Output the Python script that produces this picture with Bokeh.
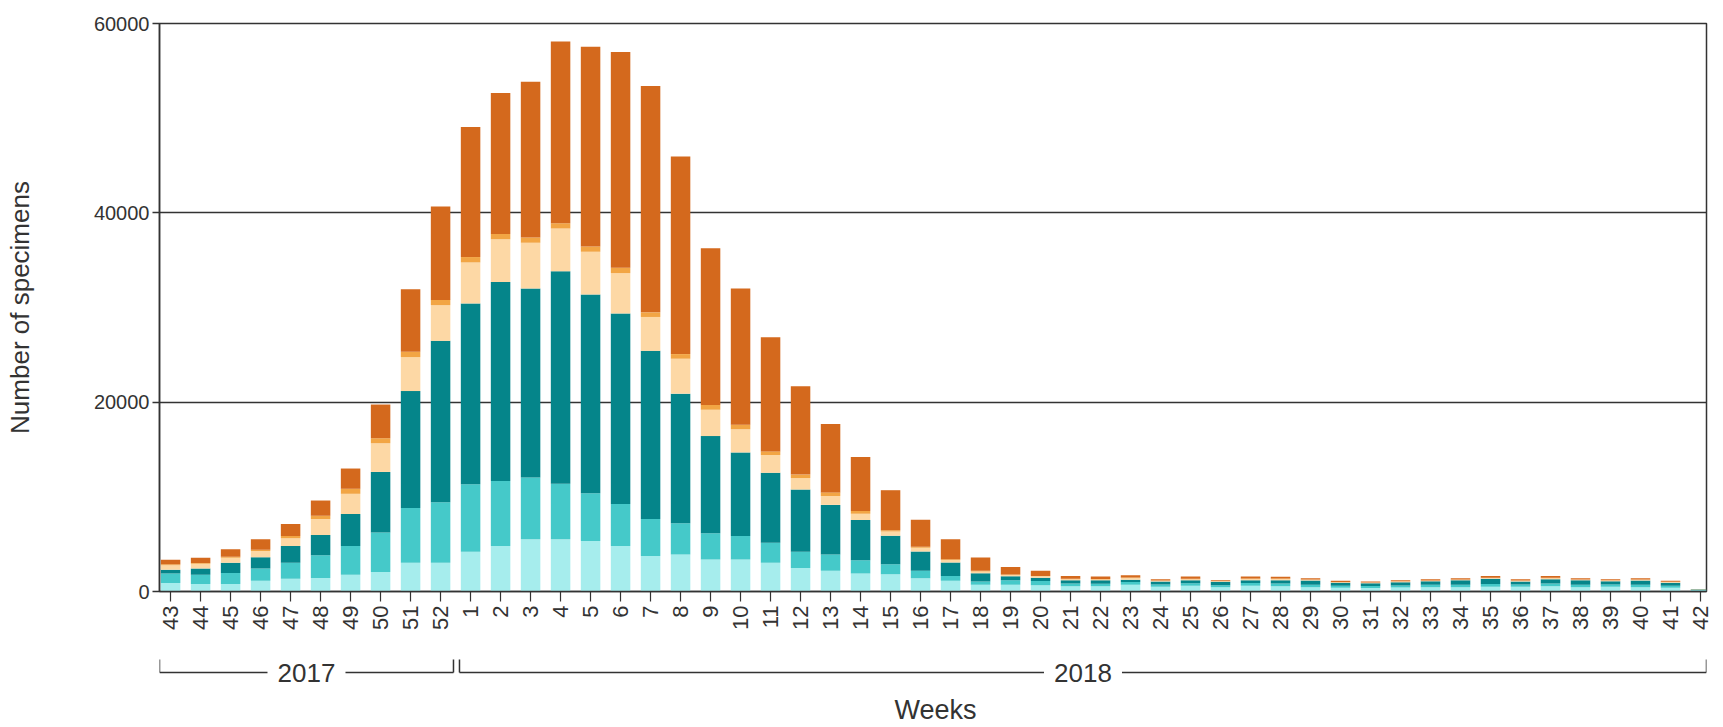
from math import pi
from bokeh.plotting import figure
from bokeh.models import Range1d, FixedTicker, ColumnDataSource, NumeralTickFormatter
from bokeh.layouts import column
from bokeh.embed import file_html
from bokeh.resources import INLINE
from bokeh.core.properties import value

# ---------------- data ----------------
weeks = [str(w) for w in list(range(43, 53)) + list(range(1, 43))]
years = ["2017"] * 10 + ["2018"] * 42

light = [890, 780, 780, 1140, 1350, 1420, 1780, 2060, 3025, 3025,
         4200, 4800, 5520, 5520, 5340, 4800, 3740, 3910, 3380, 3380,
         3025, 2490, 2200, 1900, 1830, 1410, 1130, 700, 700, 650,
         550, 550, 700, 500, 600, 450, 600, 550, 450, 400,
         380, 420, 450, 450, 500, 500, 550, 450, 500, 450, 400, 100]
turq = [1000, 1000, 1180, 1280, 1675, 2420, 3020, 4170, 5800, 6400,
        7120, 6870, 6510, 5870, 5050, 4450, 3910, 3310, 2780, 2490,
        2135, 1710, 1710, 1400, 1060, 770, 520, 360, 500, 450,
        300, 280, 300, 250, 280, 220, 300, 300, 250, 200,
        200, 220, 250, 250, 300, 250, 300, 250, 250, 250, 200, 50]
teal = [420, 640, 1065, 1210, 1775, 2140, 3390, 6400, 12350, 17050,
        19110, 21020, 19980, 22430, 20980, 20120, 17770, 13680, 10260, 8820,
        7380, 6570, 5240, 4250, 2990, 2040, 1410, 880, 400, 350,
        350, 350, 250, 300, 300, 350, 300, 350, 450, 320,
        300, 350, 380, 480, 550, 300, 450, 500, 330, 450, 330, 50]
peach = [470, 500, 535, 640, 820, 1670, 2130, 3030, 3580, 3770,
         4330, 4520, 4820, 4520, 4520, 4260, 3580, 3690, 2780, 2450,
         1880, 1210, 940, 650, 450, 400, 280, 180, 150, 150,
         100, 100, 170, 80, 120, 60, 130, 120, 80, 60,
         60, 60, 60, 60, 80, 90, 110, 60, 90, 80, 70, 20]
amber = [100, 100, 120, 150, 250, 360, 530, 530, 570, 560,
         570, 560, 570, 560, 560, 570, 490, 490, 500, 480,
         380, 370, 380, 300, 150, 100, 70, 60, 50, 50,
         50, 50, 50, 40, 50, 20, 50, 50, 30, 30,
         20, 30, 30, 20, 30, 30, 40, 20, 30, 30, 30, 10]
orange = [470, 540, 770, 1100, 1250, 1600, 2140, 3560, 6590, 9870,
          13740, 14880, 16450, 19210, 21090, 22780, 23910, 20870, 16570, 14390,
          12050, 9340, 7230, 5700, 4220, 2850, 2120, 1410, 800, 530,
          300, 250, 250, 130, 230, 100, 200, 180, 150, 120,
          100, 120, 130, 150, 190, 130, 200, 130, 100, 150, 100, 20]

layers = ["light", "turq", "teal", "peach", "amber", "orange"]
colors = ["#a6eded", "#45c9c9", "#05858a", "#fdd8a5", "#f2a544", "#d4691d"]

FONT = "Liberation Sans"
TXT = "#333333"
LINE = "#333333"

x = list(range(len(weeks)))
src = ColumnDataSource(dict(x=x, light=light, turq=turq, teal=teal,
                            peach=peach, amber=amber, orange=orange))

W = 1713
LEFT = 159
RIGHT = 7
x_range = Range1d(-0.37, len(weeks) - 1 + 0.2)

p = figure(width=W, height=648, x_range=x_range, y_range=Range1d(0, 60000),
           output_backend="svg", toolbar_location=None,
           min_border_left=LEFT, min_border_right=RIGHT,
           min_border_top=23, min_border_bottom=57)
p.background_fill_color = "white"
p.border_fill_color = "white"

p.vbar_stack(layers, x="x", width=0.65, color=colors, line_color=None, source=src)

p.outline_line_color = LINE
p.outline_line_width = 1.5

p.xgrid.visible = False
p.ygrid.ticker = FixedTicker(ticks=[20000, 40000])
p.ygrid.grid_line_color = LINE
p.ygrid.grid_line_width = 1.5

ya = p.yaxis[0]
ya.ticker = FixedTicker(ticks=[0, 20000, 40000, 60000])
ya.formatter = NumeralTickFormatter(format="0")
ya.axis_label = "Number of specimens"
ya.axis_label_text_font = FONT
ya.axis_label_text_font_size = "26px"
ya.axis_label_text_font_style = "normal"
ya.axis_label_text_color = TXT
ya.axis_label_standoff = 56
ya.major_label_text_font = FONT
ya.major_label_text_font_size = "20px"
ya.major_label_text_color = TXT
ya.major_label_standoff = 3
ya.major_tick_out = 7
ya.major_tick_in = 0
ya.minor_tick_line_color = None
ya.axis_line_color = LINE
ya.axis_line_width = 1.5
ya.major_tick_line_color = LINE
ya.major_tick_line_width = 1.5

xa = p.xaxis[0]
xa.ticker = FixedTicker(ticks=x)
xa.major_label_overrides = {i: w for i, w in enumerate(weeks)}
xa.major_label_orientation = pi / 2
xa.major_label_text_font = FONT
xa.major_label_text_font_size = "22px"
xa.major_label_text_color = TXT
xa.major_label_standoff = 4
xa.major_tick_out = 10
xa.major_tick_in = 0
xa.minor_tick_line_color = None
xa.axis_line_color = LINE
xa.axis_line_width = 1.5
xa.major_tick_line_color = LINE
xa.major_tick_line_width = 1.2

# ---------- year brackets and x-axis title (second strip) ----------
H2 = 77
q = figure(width=W, height=H2, x_range=x_range, y_range=Range1d(0, H2),
           output_backend="svg", toolbar_location=None,
           min_border_left=LEFT, min_border_right=RIGHT,
           min_border_top=0, min_border_bottom=0,
           x_axis_type=None, y_axis_type=None)
q.outline_line_color = None
q.grid.visible = False

LINE_Y = 53
TICK_Y = 66
spans = []
for yr in ["2017", "2018"]:
    idx = [i for i, v in enumerate(years) if v == yr]
    spans.append((yr, idx[0], idx[-1]))

x0s, x1s = [], []
tx, tt = [], []
for k, (yr, a, b) in enumerate(spans):
    left = a - 0.37
    right = b + 0.43 if k < len(spans) - 1 else b + 0.2
    mid = (left + right) / 2
    gap = 1.3
    x0s += [left, mid + gap]
    x1s += [mid - gap, right]
    tx.append(mid)
    tt.append(yr)
    q.segment(x0=[left, right], y0=[LINE_Y, LINE_Y], x1=[left, right], y1=[TICK_Y, TICK_Y],
              line_color=LINE, line_width=1.5)
q.segment(x0=x0s, y0=[LINE_Y] * len(x0s), x1=x1s, y1=[LINE_Y] * len(x1s),
          line_color=LINE, line_width=1.5)
q.text(x=tx, y=[LINE_Y] * len(tx), text=tt, text_align="center", text_baseline="middle",
       text_font=value(FONT), text_font_size="26px", text_color=TXT)
q.text(x=[(len(weeks) - 1) / 2], y=[1], text=["Weeks"], text_align="center",
       text_baseline="bottom", text_font=value(FONT), text_font_size="27px", text_color=TXT)

layout = column(p, q, spacing=0)
open("out.html", "w").write(file_html(layout, INLINE))
